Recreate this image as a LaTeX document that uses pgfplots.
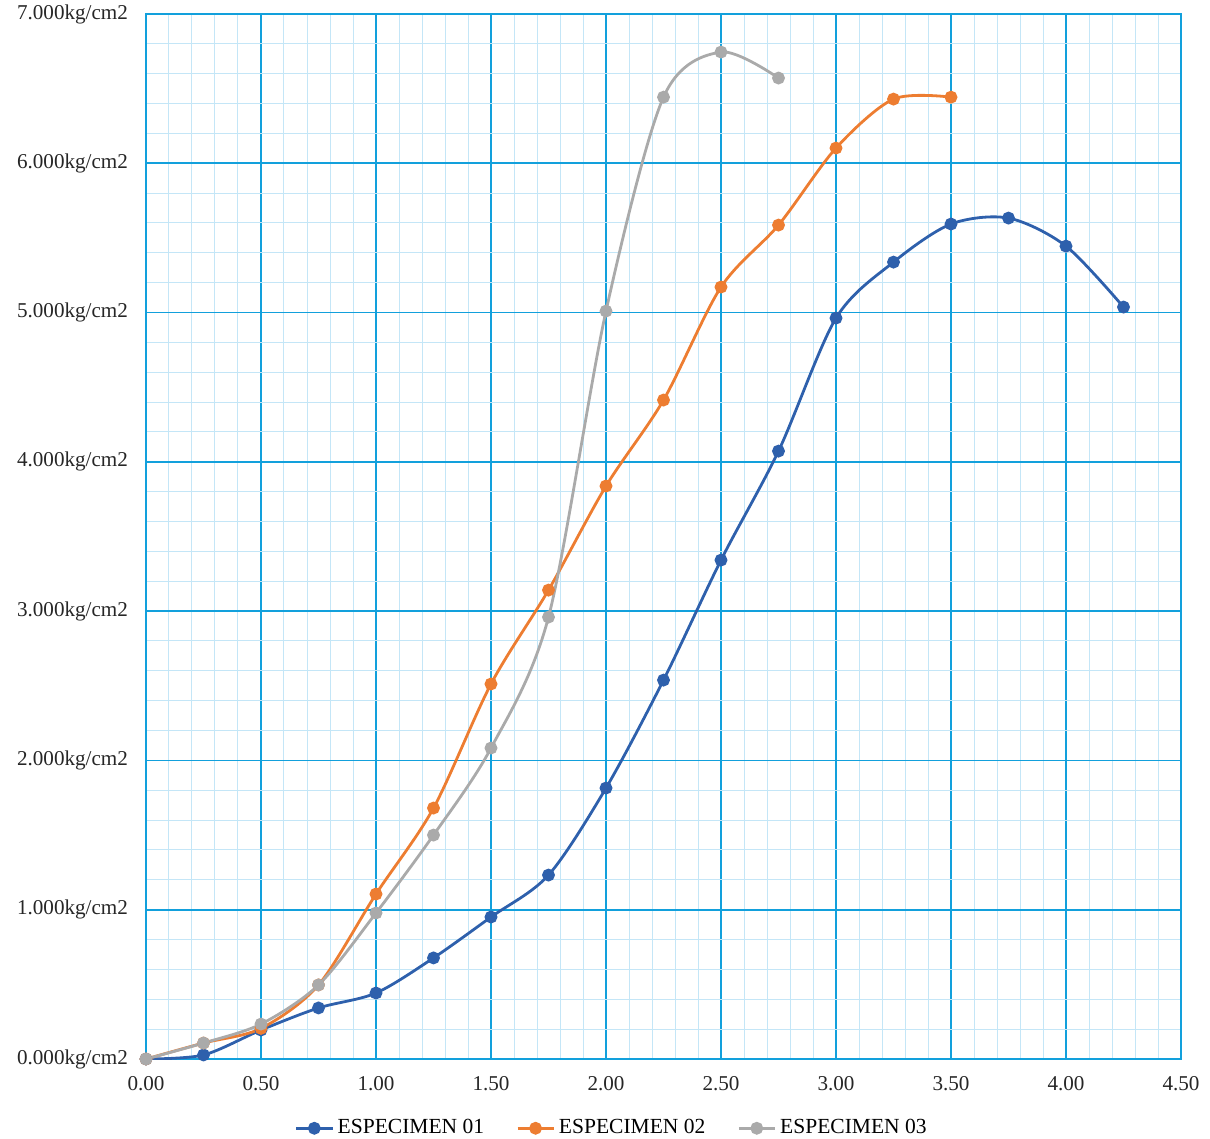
\documentclass[border=0pt]{standalone}
\usepackage{pgfplots}
\pgfplotsset{compat=1.18}
\usepackage{fontspec}
\setmainfont{Liberation Serif}
\definecolor{majgrid}{RGB}{18,160,220}
\definecolor{mingrid}{RGB}{196,230,247}
\definecolor{sblue}{RGB}{46,96,172}
\definecolor{sorange}{RGB}{237,125,49}
\definecolor{sgray}{RGB}{170,170,170}
\begin{document}
\begin{tikzpicture}
\begin{axis}[
  scale only axis,
  width=517.5bp, height=522.5bp,
  xmin=0, xmax=4.5, ymin=0, ymax=7000,
  xtick={0,0.5,...,4.5},
  minor xtick={0,0.1,...,4.5},
  ytick={0,1000,...,7000},
  minor ytick={0,200,...,7000},
  yticklabels={0.000kg/cm2,1.000kg/cm2,2.000kg/cm2,3.000kg/cm2,4.000kg/cm2,5.000kg/cm2,6.000kg/cm2,7.000kg/cm2},
  xticklabel={\pgfmathprintnumber[fixed,fixed zerofill,precision=2]{\tick}},
  /pgf/number format/assume math mode=true,
  grid=both,
  major grid style={majgrid, line width=0.9bp},
  minor grid style={mingrid, line width=0.5bp},
  axis line style={majgrid, line width=0.9bp},
  major tick length=0pt, minor tick length=0pt,
  tick label style={font=\fontsize{10.6}{13}\selectfont, text=black!85},
  xticklabel style={yshift=-5bp},
  yticklabel style={xshift=-5.5bp},
  legend style={at={(0.451,-0.05)}, anchor=north, draw=none, legend columns=3,
    font=\fontsize{10.8}{13}\selectfont, /tikz/every even column/.append style={column sep=14bp}},
  legend image code/.code={\draw[mark repeat=2,mark phase=2,#1] plot coordinates {(0bp,0bp) (9bp,0bp) (18bp,0bp)};},
  every axis plot/.append style={line width=1.4bp, smooth, tension=0.5, mark=*, mark size=2.5bp},
]
\addplot[sblue, mark options={fill=sblue, draw=sblue}] coordinates {
(0,0) (0.25,27) (0.5,194) (0.75,342) (1.0,442) (1.25,677) (1.5,951) (1.75,1232)
(2.0,1815) (2.25,2538) (2.5,3342) (2.75,4072) (3.0,4963) (3.25,5338) (3.5,5593)
(3.75,5633) (4.0,5445) (4.25,5037)};
\addlegendentry{ESPECIMEN 01}
\addplot[sorange, mark options={fill=sorange, draw=sorange}] coordinates {
(0,0) (0.25,107) (0.5,205) (0.75,496) (1.0,1105) (1.25,1681) (1.5,2512) (1.75,3141)
(2.0,3838) (2.25,4414) (2.5,5171) (2.75,5586) (3.0,6102) (3.25,6430) (3.5,6443)};
\addlegendentry{ESPECIMEN 02}
\addplot[sgray, mark options={fill=sgray, draw=sgray}] coordinates {
(0,0) (0.25,107) (0.5,234) (0.75,496) (1.0,978) (1.25,1500) (1.5,2083) (1.75,2960)
(2.0,5010) (2.25,6443) (2.5,6745) (2.75,6571)};
\addlegendentry{ESPECIMEN 03}
\end{axis}
\pgfresetboundingbox
\path ([shift={(-73bp,-40bp)}]current axis.south west) rectangle ([shift={(14.5bp,7bp)}]current axis.north east);
\end{tikzpicture}
\end{document}
